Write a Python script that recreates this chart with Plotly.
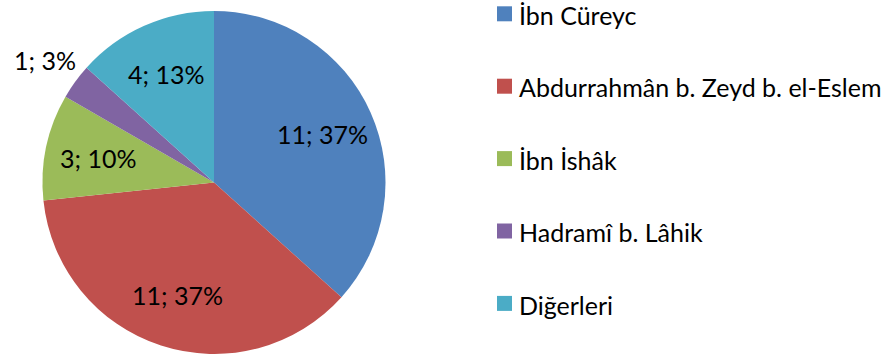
import math
import plotly.graph_objects as go

# Narrator counts
narrators = ["İbn Cüreyc", "Abdurrahmân b. Zeyd b. el-Eslem", "İbn İshâk",
             "Hadramî b. Lâhik", "Diğerleri"]
counts = [11, 11, 3, 1, 4]
colors = ["#4F81BD", "#C0504D", "#9BBB59", "#8064A2", "#4BACC6"]
label_outside = [False, False, False, True, False]

W, H = 882, 354
FONT = "Lato"
FS = 25

# pie placement in pixels
cx, cy, r = 214, 182.5, 171.5

fig = go.Figure()
fig.add_trace(go.Pie(
    labels=narrators,
    values=counts,
    sort=False,
    direction="clockwise",
    rotation=0,
    marker=dict(colors=colors, line=dict(width=0)),
    textinfo="none",
    showlegend=False,
    hoverinfo="label+value+percent",
    domain=dict(x=[(cx - r) / W, (cx + r) / W],
                y=[(H - cy - r) / H, (H - cy + r) / H]),
))

annotations, shapes = [], []

# value labels: "count; percent", placed along each slice's mid-angle
total = sum(counts)
cum = 0
for v, out in zip(counts, label_outside):
    mid = (cum + v / 2) / total * 2 * math.pi
    cum += v
    rr = r * (1.22 if out else 0.69)
    px = cx + rr * math.sin(mid)
    py = cy - rr * math.cos(mid)
    annotations.append(dict(xref="paper", yref="paper", x=px / W, y=(H - py) / H,
                            xanchor="center", yanchor="middle", showarrow=False,
                            text=f"{v}; {round(100 * v / total)}%",
                            font=dict(family=FONT, size=FS, color="#000000")))

# legend: square swatch + label per narrator
x_sw0, x_sw1, sw = 497, 512, 15
x_txt = 517
y0, dy = 13.8, 72.4
for i, (name, col) in enumerate(zip(narrators, colors)):
    yc = y0 + i * dy
    shapes.append(dict(type="rect", xref="paper", yref="paper",
                       x0=x_sw0 / W, x1=x_sw1 / W,
                       y0=(H - yc - sw / 2) / H, y1=(H - yc + sw / 2) / H,
                       fillcolor=col, line=dict(width=0)))
    annotations.append(dict(xref="paper", yref="paper", x=x_txt / W,
                            y=min(H - yc - 1.2, H - 15.5) / H,
                            xanchor="left", yanchor="middle", showarrow=False,
                            text=name, font=dict(family=FONT, size=FS, color="#000000")))

fig.update_layout(
    width=W, height=H,
    margin=dict(l=0, r=0, t=0, b=0),
    paper_bgcolor="white",
    plot_bgcolor="white",
    shapes=shapes,
    annotations=annotations,
)

fig.write_html("out.html")
